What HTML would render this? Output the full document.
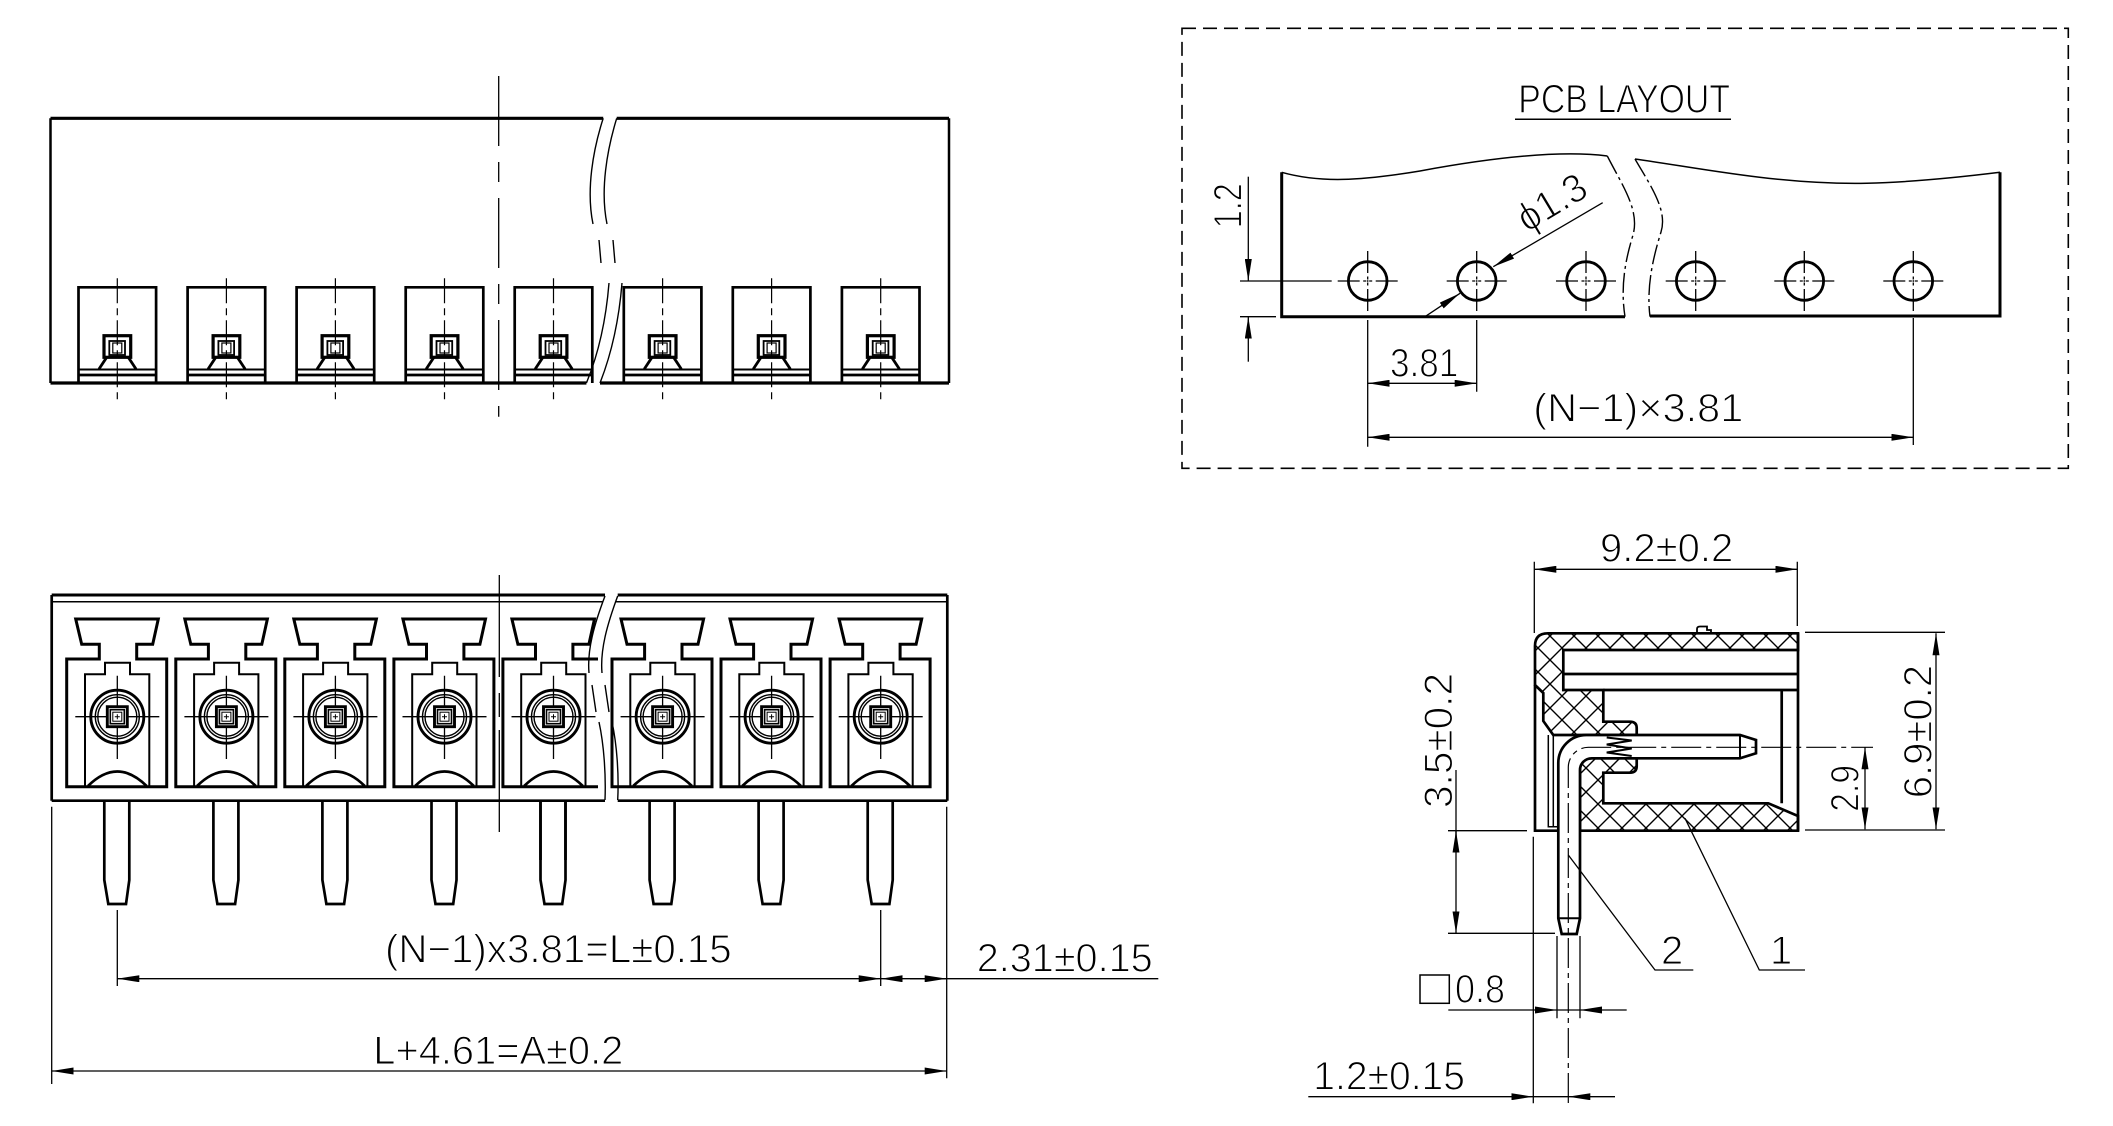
<!DOCTYPE html>
<html><head><meta charset="utf-8"><style>
html,body{margin:0;padding:0;background:#fff;}
svg{display:block;}
text{font-family:"Liberation Sans","DejaVu Sans",sans-serif;font-size:40px;fill:#000;stroke:#fff;stroke-width:1.1px;paint-order:fill stroke;}
</style></head><body>
<svg width="2113" height="1126" viewBox="0 0 2113 1126" xmlns="http://www.w3.org/2000/svg">
<defs>
<marker id="a" viewBox="0 0 22 7" refX="22" refY="3.5" markerWidth="22" markerHeight="7" markerUnits="userSpaceOnUse" orient="auto-start-reverse"><path d="M0,0 L22,3.5 L0,7 Z" fill="#000" stroke="none"/></marker>
<pattern id="hx" patternUnits="userSpaceOnUse" width="24" height="24" x="2" y="0"><path d="M0,0 L24,24 M24,0 L0,24" stroke="#000" stroke-width="1.4" fill="none" stroke-linecap="square"/></pattern>
<g id="ts" fill="none" stroke="#000">
 <path d="M-38.8,383 V287.3 H38.8 V383" stroke-width="2.7"/>
 <path d="M-38.8,369.5 H38.8" stroke-width="2"/>
 <path d="M-38.8,375 H38.8" stroke-width="2.7"/>
 <rect x="-13.3" y="335.7" width="26.7" height="21.6" stroke-width="3.2"/>
 <rect x="-8" y="341" width="15.7" height="14" stroke-width="1.8"/>
 <rect x="-4.5" y="343" width="9" height="10" stroke-width="1.2"/>
 <path d="M-10.6,357.3 L-18.3,369 M11,357.3 L18.7,369" stroke-width="2.8"/>
 <path d="M0,278.3 V401.7" stroke-width="1.2" stroke-dasharray="25 5 7 5"/>
</g>
<g id="fs" fill="none" stroke="#000">
 <path d="M-50.6,659 L-18,659 L-18,644.3 L-35.6,644.3 L-41.6,619 L41,619 L35.4,644.3 L19.4,644.3 L19.4,659 L49.4,659 L49.4,786.7 L-50.6,786.7 Z" stroke-width="3"/>
 <path d="M-32.3,786.7 V674.3 H-12.3 V662.7 H12.7 V674.3 H32 V786.7" stroke-width="2"/>
 <circle cx="0" cy="716.7" r="26.5" stroke-width="2.9"/>
 <circle cx="0" cy="716.7" r="22" stroke-width="1.4"/>
 <circle cx="0" cy="716.7" r="19.5" stroke-width="1.4"/>
 <path d="M-42,716.7 H42 M0,675.7 V759" stroke-width="1.3"/>
 <rect x="-10" y="706.7" width="20" height="20" stroke-width="2.9" fill="#fff"/>
 <rect x="-7" y="709.7" width="14" height="14" stroke-width="1.6"/>
 <rect x="-4.5" y="712.2" width="9" height="9" stroke-width="1"/>
 <path d="M-2.5,716.7 H2.5 M0,714.2 V719.2" stroke-width="1"/>
 <path d="M-29.3,786 Q0,757 29.3,786" stroke-width="2.7"/>
 <path d="M-13,800.7 V880 L-9,904 H8.7 L12,880 V800.7" stroke-width="2.7"/>
</g>
<g id="h" fill="none" stroke="#000">
 <circle cx="0" cy="0" r="19.3" stroke-width="2.8"/>
 <path d="M-30,0 H-8 M-4.5,0 H-1.5 M1.5,0 H4.5 M8,0 H30 M0,-30 V-8 M0,-4.5 V-1.5 M0,1.5 V4.5 M0,8 V30" stroke-width="1.3"/>
 <circle cx="0" cy="0" r="0.9" fill="#000" stroke="none"/>
</g>
<clipPath id="c5"><rect x="0" y="560" width="598" height="300"/></clipPath>
</defs>

<g fill="none" stroke="#000" stroke-width="1.3">

<!-- ============ TOP VIEW ============ -->
<path d="M50.5,118.3 H603.2 M616.7,118.3 H949" stroke-width="3.2"/>
<path d="M50.5,383 H586.4 M600,383 H949" stroke-width="3.2"/>
<path d="M50.5,118.3 V383 M949,118.3 V383" stroke-width="2.5"/>
<path d="M603.2,118.3 C593,150 586,190 593,224 M599,240 L601,263 M609,283 C606,320 598,355 586.4,383" stroke-width="1.4"/>
<path d="M616.7,118.3 C607,150 600,190 607,224 M613,240 L615,263 M622,283 C619,320 611,355 600,383" stroke-width="1.4"/>
<path d="M498.7,76 V416.7" stroke-width="1.3" stroke-dasharray="70 16 20 16"/>
<use href="#ts" x="117.3"/>
<use href="#ts" x="226.4"/>
<use href="#ts" x="335.4"/>
<use href="#ts" x="444.5"/>
<use href="#ts" x="553.5"/>
<use href="#ts" x="662.6"/>
<use href="#ts" x="771.6"/>
<use href="#ts" x="880.7"/>

<!-- ============ FRONT VIEW ============ -->
<path d="M51.7,595 H605 M617.7,595 H947.3" stroke-width="3"/>
<path d="M51.7,601.7 H603 M616,601.7 H947.3" stroke-width="1.5"/>
<path d="M51.7,800.7 H605 M617.7,800.7 H947.3" stroke-width="2.7"/>
<path d="M51.7,595 V800.7 M947.3,595 V800.7" stroke-width="2.7"/>
<path d="M605,596 C594,625 587,650 589,673 M592,685 L596,712 M599,722 C604,745 606,775 605,800" stroke-width="1.4"/>
<path d="M617.7,596 C607,625 600,650 602,673 M605,685 L609,712 M612,722 C617,745 619,775 617.7,800" stroke-width="1.4"/>
<path d="M499.3,575 V840" stroke-width="1.3" stroke-dasharray="102 16 24 13"/>
<use href="#fs" x="117.3"/>
<use href="#fs" x="226.4"/>
<use href="#fs" x="335.4"/>
<use href="#fs" x="444.5"/>
<g clip-path="url(#c5)"><use href="#fs" x="553.5"/></g>
<path d="M540.5,800.7 V880 L544.5,904 H562.2 L565.5,880 V800.7" stroke-width="2.7"/>
<use href="#fs" x="662.6"/>
<use href="#fs" x="771.6"/>
<use href="#fs" x="880.7"/>

<!-- front dims -->
<path d="M51.7,806.7 V1084 M946.7,806.7 V1078.3 M117.3,910 V986 M880.7,910 V986"/>
<path d="M117.3,978.7 H880.7" marker-start="url(#a)" marker-end="url(#a)"/>
<path d="M1158.3,978.7 H880.7" marker-end="url(#a)"/>
<path d="M910,978.7 H946.7" marker-end="url(#a)"/>
<path d="M51.7,1071 H946.7" marker-start="url(#a)" marker-end="url(#a)"/>
<text x="385" y="962.3" textLength="346.7" lengthAdjust="spacingAndGlyphs">(N−1)x3.81=L±0.15</text>
<text x="976.7" y="971.7" textLength="176" lengthAdjust="spacingAndGlyphs">2.31±0.15</text>
<text x="373.3" y="1064" textLength="250" lengthAdjust="spacingAndGlyphs">L+4.61=A±0.2</text>

<!-- ============ PCB LAYOUT ============ -->
<rect x="1182" y="28.3" width="886.3" height="440" stroke-width="1.6" stroke-dasharray="14 7"/>
<text x="1518.3" y="112.7" textLength="211.7" lengthAdjust="spacingAndGlyphs">PCB  LAYOUT</text>
<path d="M1515,119.3 H1731" stroke-width="1.5"/>
<path d="M1281.7,172.3 C1320,183 1360,181 1420,171 C1490,158 1560,150 1607.3,156" stroke-width="1.5"/>
<path d="M1281.7,172.3 V316.7 H1625" stroke-width="3"/>
<path d="M1607.3,156 C1622,185 1640,210 1633,235 C1626,258 1620,285 1625,316.7" stroke-width="1.4" stroke-dasharray="20 4 3 4"/>
<path d="M1635,159 C1650,185 1668,210 1661,232 C1654,255 1646,285 1650,316.7" stroke-width="1.4" stroke-dasharray="20 4 3 4"/>
<path d="M1635,159 C1700,168 1780,185 1866.7,183.3 C1920,182 1970,176 2000,172.3" stroke-width="1.5"/>
<path d="M1650,316 H2000 V172.3" stroke-width="3"/>
<use href="#h" x="1367.7" y="281"/>
<use href="#h" x="1476.7" y="281"/>
<use href="#h" x="1586" y="281"/>
<use href="#h" x="1695.7" y="281"/>
<use href="#h" x="1804.3" y="281"/>
<use href="#h" x="1913.3" y="281"/>
<path d="M1240,281 H1331.7 M1240,316.7 H1276"/>
<path d="M1248.3,176.7 V281" marker-end="url(#a)"/>
<path d="M1248.3,361.7 V316.7" marker-end="url(#a)"/>
<text transform="translate(1241.7,228.3) rotate(-90)" textLength="45" lengthAdjust="spacingAndGlyphs">1.2</text>
<path d="M1602.7,202.7 L1493.3,266.7" marker-end="url(#a)"/>
<path d="M1425,316.7 L1460,293.3" marker-end="url(#a)"/>
<text transform="translate(1527,233) rotate(-31)" textLength="74" lengthAdjust="spacingAndGlyphs">ϕ1.3</text>
<path d="M1367.7,320 V446.7 M1476.7,320 V391.7 M1913.3,318 V445"/>
<path d="M1367.7,383.3 H1476.7" marker-start="url(#a)" marker-end="url(#a)"/>
<text x="1390" y="376.7" textLength="68.3" lengthAdjust="spacingAndGlyphs">3.81</text>
<path d="M1367.7,437.3 H1913.3" marker-start="url(#a)" marker-end="url(#a)"/>
<text x="1533.3" y="421.7" textLength="210" lengthAdjust="spacingAndGlyphs">(N−1)×3.81</text>

<!-- ============ SIDE VIEW ============ -->
<path fill="url(#hx)" stroke-width="2.7" d="M1535,685 L1535,646 Q1535,633.3 1548,633.3 L1798,633.3 L1798,650 L1563.3,650 L1563.3,690 L1603.3,690 L1603.3,721.7 L1630,721.7 Q1636.7,721.7 1636.7,728 L1636.7,735 L1553.3,735 L1543.3,721 L1543.3,693 Z"/>
<path fill="url(#hx)" stroke-width="2.7" d="M1591.7,758.3 L1636.7,758.3 L1636.7,766 Q1636.7,772.7 1630,772.7 L1603.3,772.7 L1603.3,803.3 L1768.3,803.3 L1798,816 L1798,830.7 L1580,830.7 L1580,770 Q1580,758.3 1591.7,758.3 Z"/>
<path d="M1563.3,674 H1798 M1603.3,690 H1798 M1781.7,690 V803.3 M1798,633.3 V830.7" stroke-width="2.7"/>
<path d="M1535,685 V830.7 H1558" stroke-width="2.7"/>
<path d="M1548.3,735 V826.7 H1558 M1553.3,735 V826.7" stroke-width="1.5"/>
<path d="M1558.3,918.3 V763 A28,28 0 0 1 1586.3,735 H1740 L1756,740 V753.3 L1740,758.3 H1591.7 A11.7,11.7 0 0 0 1580,770 V918.3 L1576.7,934 H1561.7 L1558.3,918.3 Z" stroke-width="2.7" fill="#fff"/>
<path d="M1558.3,918.3 H1580 M1740,735 V758.3" stroke-width="2"/>
<path d="M1606.7,737.5 L1631.7,740.5 L1606.7,744.5 L1631.7,748.5 L1606.7,752.5 L1631.7,756" stroke-width="2"/>
<path d="M1568.3,1103 V767 A20,20 0 0 1 1588.3,747.3 H1873" stroke-width="1.2" stroke-dasharray="30 5 5 5"/>
<path d="M1697,633.3 V629 Q1697,626.5 1700,626.5 H1707 V630 H1711 V633.3" stroke-width="1.8"/>
<path d="M1685,818.3 L1759.3,970 H1805 M1568.3,855 L1655,970 H1693.3"/>
<text x="1661" y="964">2</text>
<text x="1770" y="964">1</text>
<!-- side dims -->
<path d="M1534.3,561.7 V633 M1797.3,561.7 V626"/>
<path d="M1534.3,569.3 H1797.3" marker-start="url(#a)" marker-end="url(#a)"/>
<text x="1600" y="561.7" textLength="133.3" lengthAdjust="spacingAndGlyphs">9.2±0.2</text>
<path d="M1805,632.3 H1945 M1805,830 H1945"/>
<path d="M1936,633.3 V829.3" marker-start="url(#a)" marker-end="url(#a)"/>
<text transform="translate(1931.7,798.3) rotate(-90)" textLength="133.3" lengthAdjust="spacingAndGlyphs">6.9±0.2</text>
<path d="M1865,747.3 V829.3" marker-start="url(#a)" marker-end="url(#a)"/>
<text transform="translate(1858.3,811.7) rotate(-90)" textLength="46.7" lengthAdjust="spacingAndGlyphs">2.9</text>
<path d="M1448,830.7 H1527 M1448,933.3 H1555"/>
<path d="M1456,770 V933.3" marker-end="url(#a)"/>
<path d="M1456,852 V830.7" marker-end="url(#a)"/>
<text transform="translate(1452,808) rotate(-90)" textLength="135" lengthAdjust="spacingAndGlyphs">3.5±0.2</text>
<path d="M1533.3,836.7 V1103.3"/>
<path d="M1557,936 V1018.3 M1580,936 V1018.3"/>
<rect x="1420" y="975" width="29.3" height="28.3" stroke-width="1.5"/>
<text x="1455" y="1002.7" textLength="50" lengthAdjust="spacingAndGlyphs">0.8</text>
<path d="M1448.3,1010 H1557" marker-end="url(#a)"/>
<path d="M1626.7,1010 H1580" marker-end="url(#a)"/>
<path d="M1557,1010 H1580"/>
<text x="1313.3" y="1089.3" textLength="151.7" lengthAdjust="spacingAndGlyphs">1.2±0.15</text>
<path d="M1308.3,1096.7 H1533.3" marker-end="url(#a)"/>
<path d="M1615,1096.7 H1568.3" marker-end="url(#a)"/>
<path d="M1533.3,1096.7 H1568.3"/>
</g>
</svg>
</body></html>
